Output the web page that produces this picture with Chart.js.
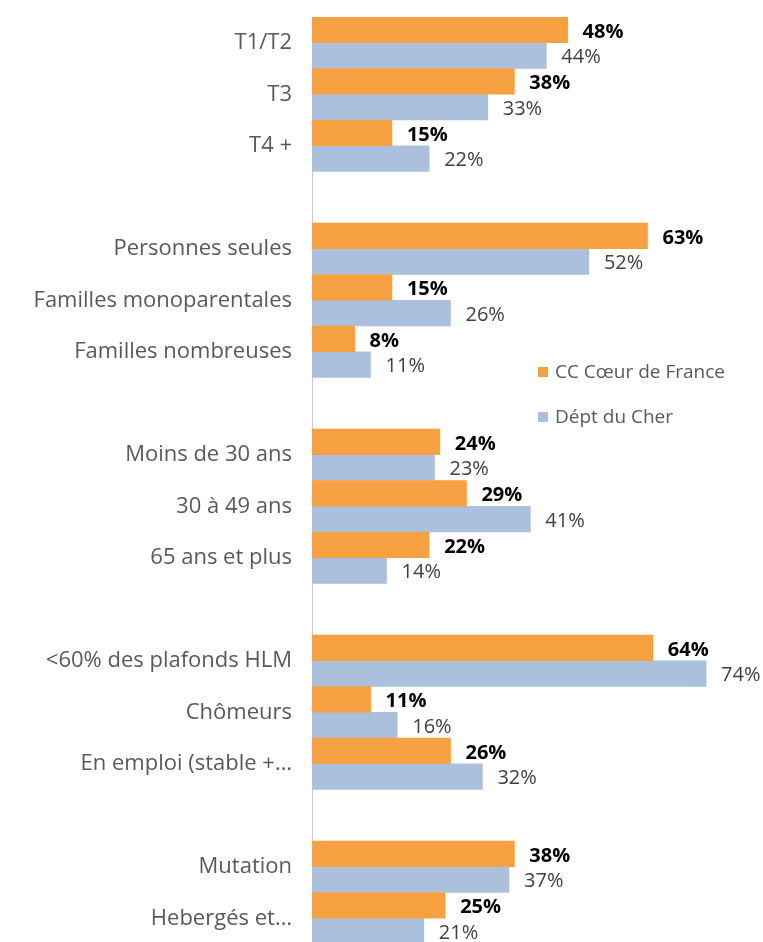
<!DOCTYPE html>
<html>
<head>
<meta charset="utf-8">
<script src="https://cdn.jsdelivr.net/npm/chart.js@4.4.1/dist/chart.umd.min.js"></script>
<style>
  html, body { margin: 0; padding: 0; background: #fff; overflow: hidden; }
  #wrap { position: relative; width: 763px; height: 960px; }
</style>
</head>
<body>
<div id="wrap"><canvas id="c"></canvas></div>
<script>
const categories = [
  'T1/T2', 'T3', 'T4 +', '',
  'Personnes seules', 'Familles monoparentales', 'Familles nombreuses', '',
  'Moins de 30 ans', '30 à 49 ans', '65 ans et plus', '',
  '<60% des plafonds HLM', 'Chômeurs', 'En emploi (stable +…', '',
  'Mutation', 'Hebergés et…'
];
const seriesNames = ['CC Cœur de France', 'Dépt du Cher'];
const ccCoeurDeFrance = [48, 38, 15, null, 63, 15, 8, null, 24, 29, 22, null, 64, 11, 26, null, 38, 25];
const deptDuCher      = [44, 33, 22, null, 52, 26, 11, null, 23, 41, 14, null, 74, 16, 32, null, 37, 21];
const xMin = 0;
const xMax = 80;

const ORANGE = '#F5A041';
const BLUE = '#AAC0DC';
const FONT = "'Open Sans', 'Noto Sans', sans-serif";

const valueLabels = {
  id: 'valueLabels',
  afterDatasetsDraw(chart) {
    const ctx = chart.ctx;
    ctx.save();
    ctx.textAlign = 'left';
    ctx.textBaseline = 'middle';
    chart.data.datasets.forEach((ds, di) => {
      const meta = chart.getDatasetMeta(di);
      ctx.font = (di === 0 ? 'bold ' : '') + '20px ' + FONT;
      ctx.fillStyle = di === 0 ? '#000000' : '#404040';
      meta.data.forEach((el, i) => {
        const v = ds.data[i];
        if (v === null || v === undefined) return;
        ctx.fillText(v + '%', el.x + 15, el.y + 2);
      });
    });
    ctx.restore();
  }
};

const sideLegend = {
  id: 'sideLegend',
  afterDraw(chart) {
    const ctx = chart.ctx;
    const a = chart.chartArea;
    const x0 = a.left + 226;
    const ys = [a.top + 355, a.top + 400];
    ctx.save();
    ctx.textAlign = 'left';
    ctx.textBaseline = 'middle';
    ctx.font = '19px ' + FONT;
    chart.data.datasets.forEach((ds, di) => {
      const y = ys[di];
      ctx.fillStyle = ds.backgroundColor;
      ctx.fillRect(x0, y - 5, 10, 10);
      ctx.fillStyle = '#595959';
      ctx.fillText(ds.label, x0 + 17, y + 1);
    });
    ctx.restore();
  }
};

new Chart(document.getElementById('c'), {
  type: 'bar',
  data: {
    labels: categories,
    datasets: [
      { label: seriesNames[0], data: ccCoeurDeFrance, backgroundColor: ORANGE, borderWidth: 0 },
      { label: seriesNames[1], data: deptDuCher, backgroundColor: BLUE, borderWidth: 0 }
    ]
  },
  options: {
    indexAxis: 'y',
    responsive: true,
    maintainAspectRatio: false,
    animation: false,
    datasets: { bar: { categoryPercentage: 1.0, barPercentage: 1.0 } },
    layout: { padding: { top: 17, right: 25, bottom: 16, left: 0 } },
    plugins: { legend: { display: false }, tooltip: { enabled: false } },
    scales: {
      x: { display: false, min: xMin, max: xMax },
      y: {
        afterFit: s => { s.width = 312; s.paddingTop = 0; s.paddingBottom = 0; },
        grid: { display: false, drawTicks: false },
        border: { display: true, color: '#C8C8C8', width: 1 },
        ticks: { padding: 20, color: '#595959', font: { family: FONT, size: 22 }, autoSkip: false }
      }
    }
  },
  plugins: [valueLabels, sideLegend]
});
</script>
</body>
</html>
